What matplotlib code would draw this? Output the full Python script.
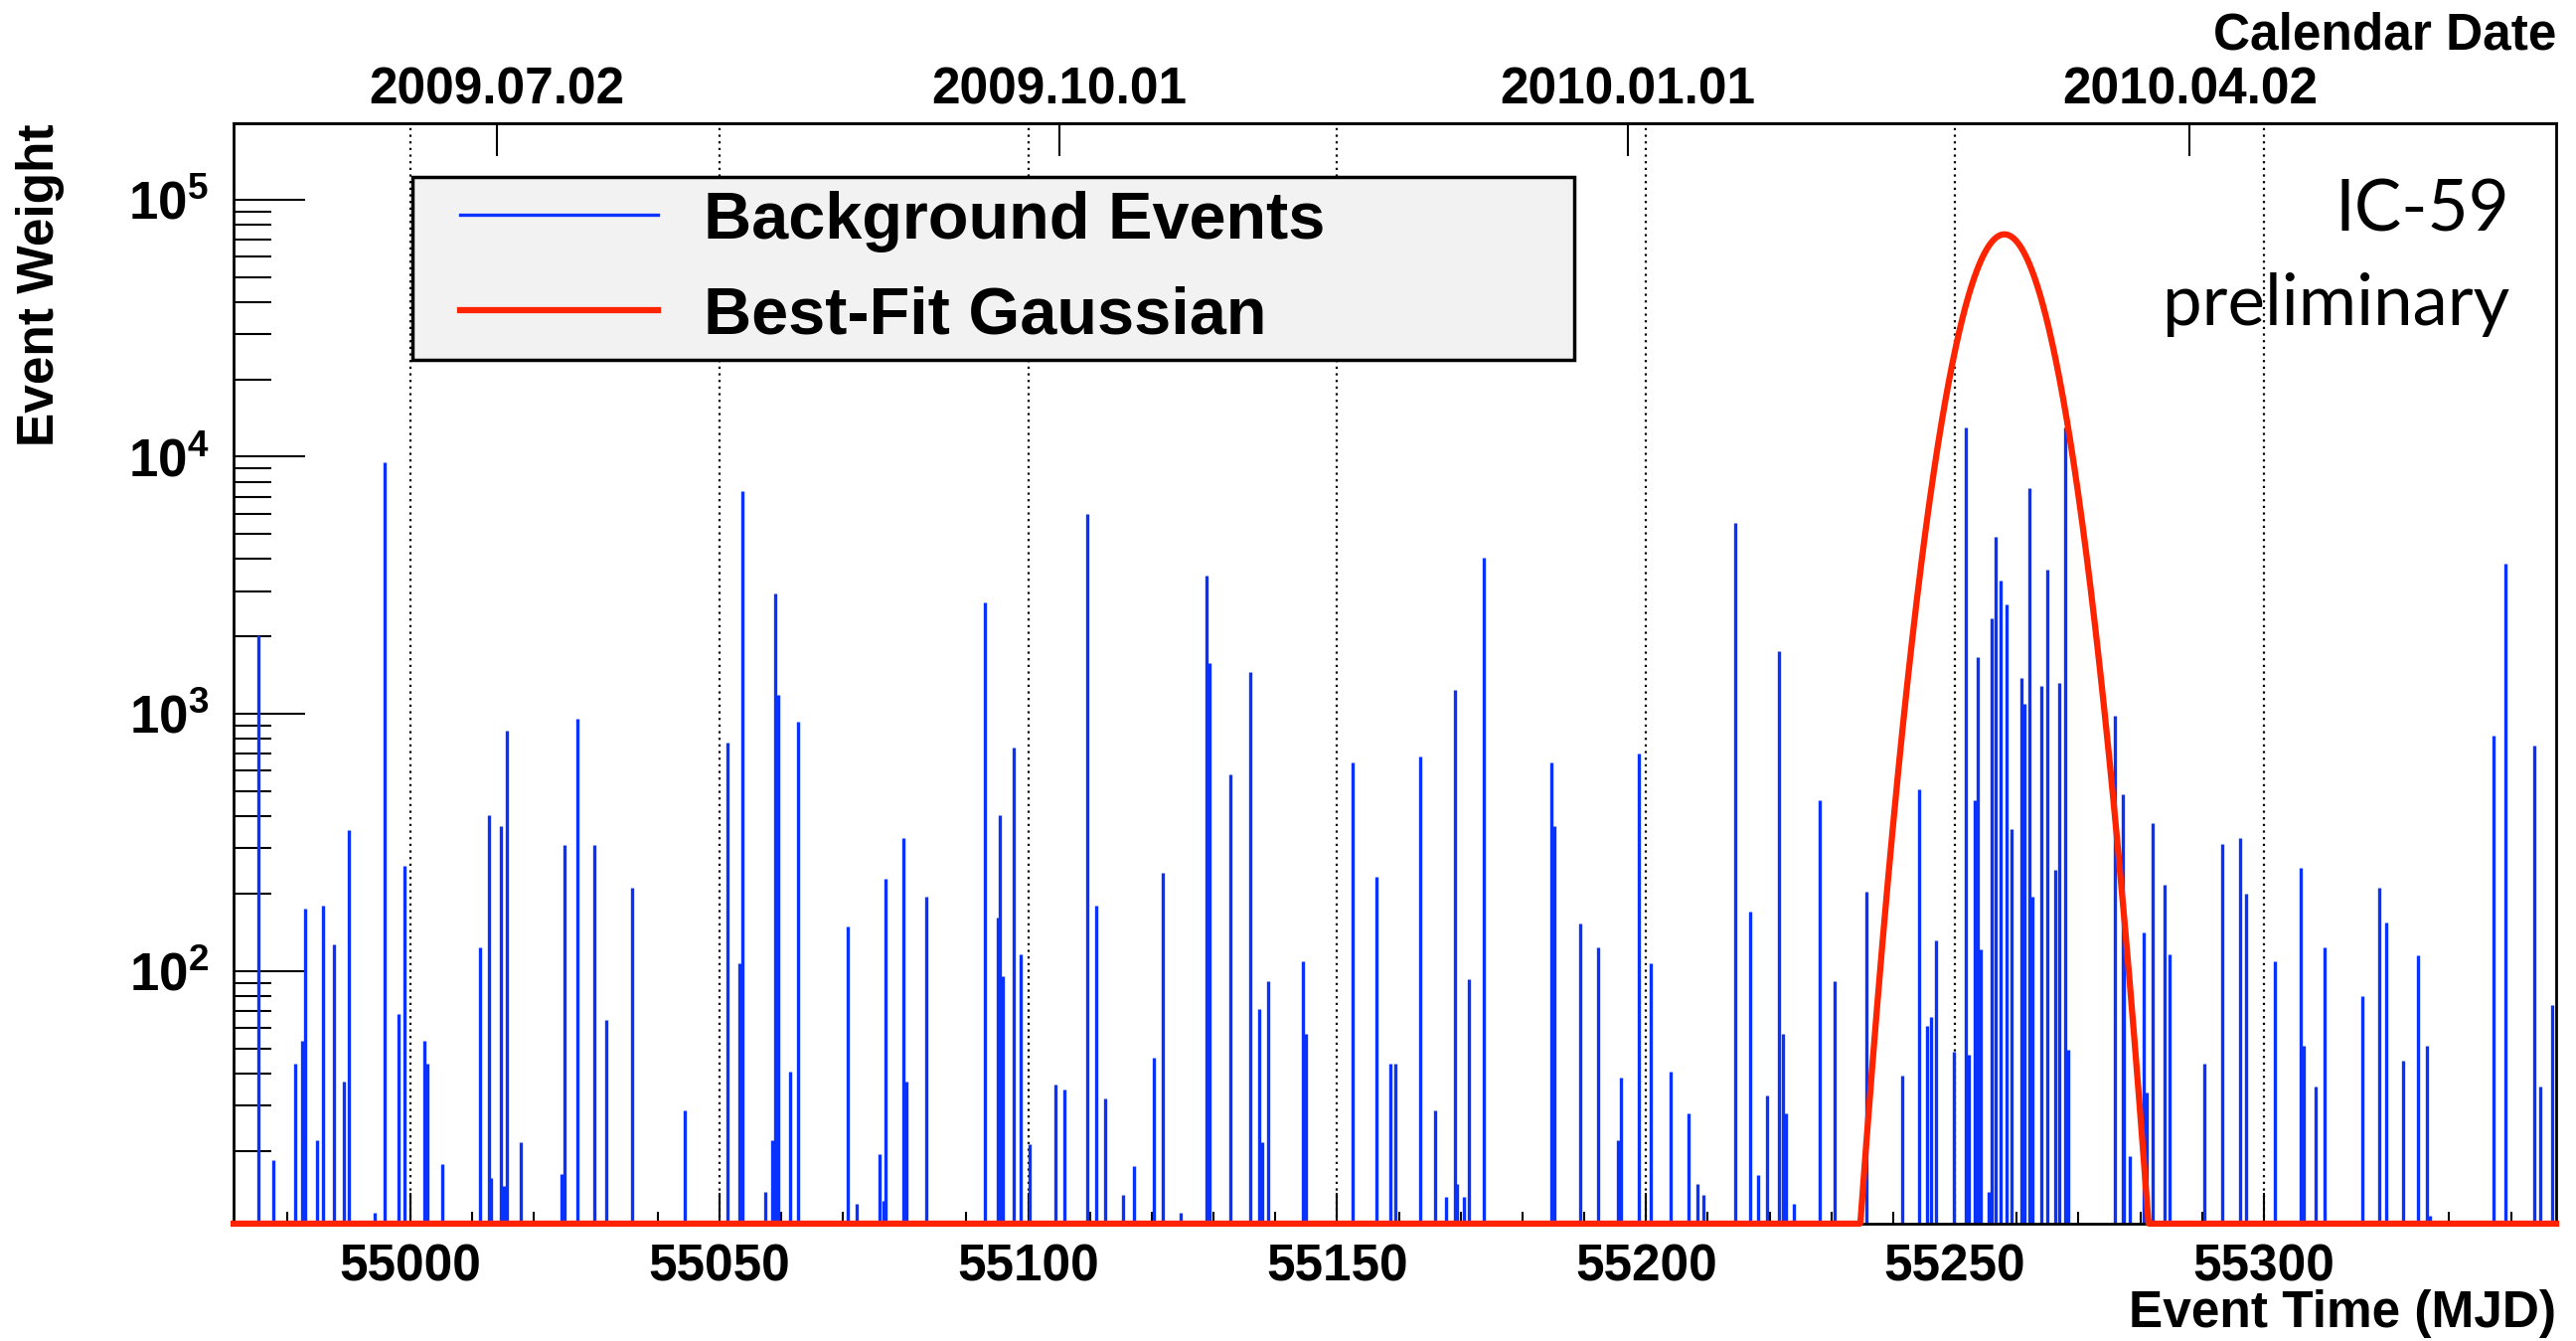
import numpy as np
import matplotlib
matplotlib.use("Agg")
import matplotlib.pyplot as plt
import matplotlib.ticker as ticker
from matplotlib.lines import Line2D
from matplotlib.legend_handler import HandlerLine2D

plt.rcParams["font.family"] = ["Liberation Sans", "DejaVu Sans"]
plt.rcParams["font.weight"] = "bold"
plt.rcParams["mathtext.fontset"] = "custom"
plt.rcParams["mathtext.rm"] = "Liberation Sans:bold"
plt.rcParams["mathtext.it"] = "Liberation Sans:bold"
plt.rcParams["mathtext.bf"] = "Liberation Sans:bold"

# ---------------------------------------------------------------------------
# Data
# ---------------------------------------------------------------------------

EVENT_MJD = [
    54975.4, 54977.8, 54981.4, 54982.5, 54983.0, 54984.9, 54985.8, 54987.7, 54989.2, 54990.1,
    54994.3, 54995.8, 54998.1, 54999.0, 55002.3, 55002.8, 55005.1, 55011.3, 55012.7, 55013.1,
    55014.6, 55015.2, 55015.6, 55017.9, 55024.5, 55025.0, 55027.0, 55029.8, 55031.7, 55035.9,
    55044.4, 55051.4, 55053.3, 55053.8, 55057.5, 55058.5, 55059.0, 55059.5, 55061.4, 55062.8,
    55070.8, 55072.2, 55076.0, 55076.6, 55076.9, 55079.8, 55080.3, 55083.5, 55093.0, 55095.0,
    55095.4, 55095.9, 55097.6, 55098.7, 55100.2, 55104.4, 55105.8, 55109.6, 55111.0, 55112.4,
    55115.3, 55117.1, 55120.3, 55121.8, 55124.6, 55128.9, 55129.3, 55132.7, 55136.0, 55137.4,
    55137.9, 55138.8, 55144.5, 55145.0, 55152.5, 55156.3, 55158.6, 55159.4, 55163.4, 55165.8,
    55167.6, 55169.1, 55169.4, 55170.5, 55171.4, 55173.8, 55184.6, 55185.1, 55189.4, 55192.2,
    55195.5, 55196.0, 55198.8, 55200.7, 55204.0, 55206.8, 55208.3, 55209.3, 55214.4, 55216.8,
    55218.2, 55219.6, 55221.5, 55222.2, 55222.6, 55223.9, 55228.1, 55230.5, 55235.6, 55241.4,
    55244.2, 55245.5, 55246.1, 55247.0, 55249.8, 55251.7, 55252.2, 55253.2, 55253.6, 55254.1,
    55255.5, 55256.0, 55256.5, 55257.4, 55258.3, 55259.2, 55260.7, 55261.2, 55262.1, 55262.5,
    55263.9, 55264.9, 55266.3, 55266.8, 55267.9, 55268.3, 55275.8, 55277.2, 55277.4, 55278.3,
    55280.5, 55281.0, 55282.0, 55283.9, 55284.8, 55290.4, 55293.3, 55296.1, 55297.1, 55301.8,
    55306.0, 55306.5, 55308.4, 55309.8, 55315.9, 55318.7, 55319.8, 55322.6, 55324.9, 55326.4,
    55326.8, 55337.2, 55339.1, 55343.8, 55344.7, 55346.6,
]
EVENT_WEIGHT = [
    2030, 18.4, 43.7, 53.7, 175, 22, 179, 127, 37, 353,
    11.5, 9550, 68, 257, 53.7, 43.7, 17.8, 124, 402, 15.6,
    365, 14.6, 859, 21.6, 16.2, 309, 955, 309, 64.6, 211,
    28.7, 776, 107, 7380, 13.8, 22, 2950, 1186, 40.6, 933,
    149, 12.4, 19.4, 12.8, 228, 330, 37, 195, 2716, 162,
    404, 95.5, 741, 116, 21.1, 36.3, 34.7, 6000, 179, 31.9,
    13.4, 17.5, 46, 240, 11.5, 3450, 1578, 581, 1459, 71.4,
    21.6, 91.2, 109, 56.8, 649, 233, 43.7, 43.7, 682, 28.7,
    13.2, 1242, 14.9, 13.2, 93.3, 4055, 649, 365, 153, 124,
    22, 38.4, 702, 107, 40.6, 28, 14.9, 13.4, 5546, 170,
    16.1, 32.7, 1754, 56.8, 28, 12.4, 461, 91.2, 204, 39.3,
    511, 61.4, 66, 132, 48.3, 13000, 47.3, 461, 1660, 121,
    13.8, 2344, 4875, 3296, 2655, 355, 1380, 1096, 7586, 195,
    1282, 3631, 248, 1318, 13000, 49.4, 986, 488, 130, 19,
    141, 33.7, 375, 216, 116, 43.7, 312, 330, 200, 109,
    251, 51, 35.5, 124, 80, 211, 154, 44.7, 115, 51,
    11.2, 820, 3837, 755, 35.5, 73.8,
]

# best-fit Gaussian parameters
GAUSS_PEAK = 7.33e4
GAUSS_MEAN = 55258.0
GAUSS_SIGMA = 5.54

X_RANGE = (54971.4, 55347.3)
Y_RANGE = (10.4, 1.98e5)

DATE_MJD = [55014, 55105, 55197, 55288]
DATE_LABELS = ["2009.07.02", "2009.10.01", "2010.01.01", "2010.04.02"]

LABELS = ["Background Events", "Best-Fit Gaussian"]
BLUE = "#0a32ff"
RED = "#ff2400"

# ---------------------------------------------------------------------------
# Plot
# ---------------------------------------------------------------------------

fig = plt.figure(figsize=(25.92, 13.49), dpi=100)
ax = fig.add_axes([0.0907, 0.0875, 0.9016, 0.8205])

ax.vlines(EVENT_MJD, 1, EVENT_WEIGHT, color=BLUE, lw=2.4, zorder=2)

t = np.linspace(X_RANGE[0], X_RANGE[1], 4000)
g = GAUSS_PEAK * np.exp(-0.5 * ((t - GAUSS_MEAN) / GAUSS_SIGMA) ** 2)
ax.plot(t, np.maximum(g, Y_RANGE[0]), color=RED, lw=4.5, clip_on=False, zorder=3)

ax.set_yscale("log")
ax.set_xlim(*X_RANGE)
ax.set_ylim(*Y_RANGE)

ax.xaxis.set_major_locator(ticker.MultipleLocator(50))
ax.xaxis.set_minor_locator(ticker.MultipleLocator(10))
ax.yaxis.set_major_locator(ticker.LogLocator(base=10, numticks=10))
ax.yaxis.set_minor_locator(ticker.LogLocator(base=10, subs=np.arange(2, 10), numticks=30))
ax.yaxis.set_major_formatter(ticker.FuncFormatter(lambda v, _: rf"$10^{{{int(round(np.log10(v)))}}}$"))
ax.yaxis.set_minor_formatter(ticker.NullFormatter())

ax.tick_params(axis="x", which="major", direction="in", length=22, width=1.5,
               labelsize=37, pad=14, top=False)
ax.tick_params(axis="x", which="minor", direction="in", length=9, width=1.5, top=False)
ax.tick_params(axis="y", which="major", direction="in", length=52, width=1.5,
               labelsize=38, pad=18, right=False)
ax.tick_params(axis="y", which="minor", direction="in", length=27, width=1.5, right=False)

ax.grid(axis="x", which="major", color="black", linestyle=(0, (1, 2)), lw=1.6)
for sp in ax.spines.values():
    sp.set_linewidth(2)

top = ax.secondary_xaxis("top")
top.set_xticks(DATE_MJD, DATE_LABELS)
top.tick_params(axis="x", which="major", direction="in", length=24, width=1.5,
                labelsize=37, pad=6)
top.xaxis.set_minor_locator(ticker.NullLocator())
top.spines["top"].set_linewidth(2)

handles = [Line2D([], [], color=BLUE, lw=2.4), Line2D([], [], color=RED, lw=4.5)]
leg = ax.legend(handles, LABELS, loc="upper left", bbox_to_anchor=(0.077, 0.79, 0.5, 0.161),
                mode="expand", prop={"size": 48, "weight": "bold"}, frameon=True,
                fancybox=False, edgecolor="black", facecolor="#f2f2f2", framealpha=1,
                handlelength=3.5, handletextpad=0.7, borderpad=0.2, labelspacing=0.5,
                borderaxespad=0, handler_map={Line2D: HandlerLine2D(xpad=0.52)})
leg.get_frame().set_linewidth(2.5)

ax.text(0.980, 0.9205, "IC-59", transform=ax.transAxes, ha="right", va="center",
        fontsize=51, family="Lato", weight="normal")
ax.text(0.980, 0.8356, "preliminary", transform=ax.transAxes, ha="right", va="center",
        fontsize=51, family="Lato", weight="normal")

fig.text(0.0158, 1 - 124 / 1349, "Event Weight", rotation=90, ha="center", va="top", fontsize=37)
fig.text(0.9923, 1 - 1322 / 1349, "Event Time (MJD)", ha="right", va="center", fontsize=37)
fig.text(0.9923, 1 - 36 / 1349, "Calendar Date", ha="right", va="center", fontsize=37)

fig.savefig("out.png", dpi=100, facecolor="white")
